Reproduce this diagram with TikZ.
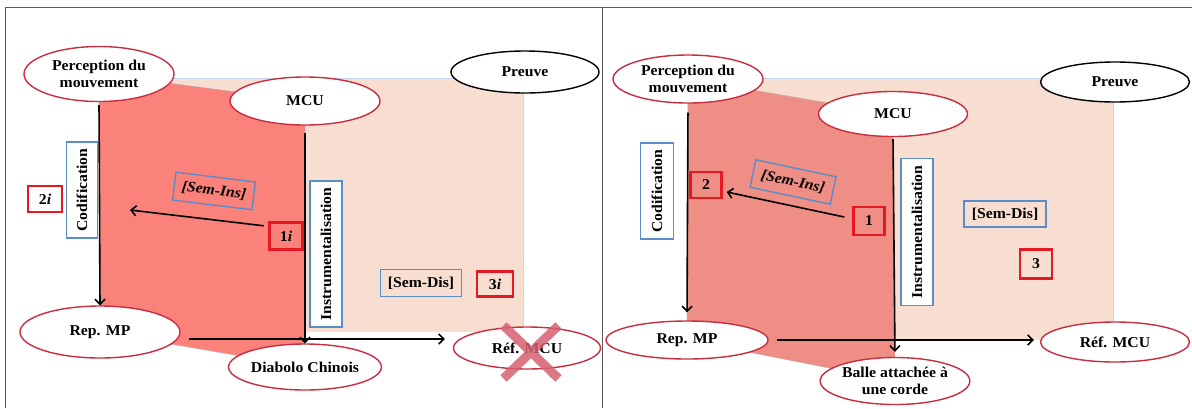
\documentclass[tikz,border=0pt]{standalone}
\usepackage{fontspec}
\setmainfont{Liberation Serif}[FakeStretch=1.05]
\usepackage{tikz}
\usetikzlibrary{arrows.meta,shapes.geometric,shapes.misc,backgrounds}
\definecolor{ZoneRed}{RGB}{250,130,122}
\definecolor{ZoneRedB}{RGB}{238,142,132}
\definecolor{ZonePeach}{RGB}{247,222,208}
\definecolor{EllRed}{RGB}{200,45,65}
\definecolor{BoxBlue}{RGB}{90,140,200}
\definecolor{BoxRed}{RGB}{230,25,35}
\definecolor{FrameGray}{RGB}{90,90,90}

\begin{document}
\begin{tikzpicture}[x=1pt, y=-1pt, >={Straight Barb[length=5pt,width=10pt]},
    font=\fontsize{15}{16.5}\selectfont\bfseries,
    ell/.style={ellipse, draw=EllRed, line width=1.4pt, fill=white, inner sep=0pt, align=center},
    bluebox/.style={draw=BoxBlue, line width=1.4pt, inner sep=0pt},
    redbox/.style={draw=BoxRed, line width=2.4pt, inner sep=0pt},
    arr/.style={->, line width=1.6pt}]
  \useasboundingbox (0,0) rectangle (1192,408);
  \draw[FrameGray, line width=0.8pt] (5,408) -- (5,7) -- (1192,7);
  \draw[FrameGray, line width=0.8pt] (602,7) -- (602,408);

  % left panel
  \node[ell, minimum width=150pt, minimum height=55pt] (perc1) at (99,74) {Perception du\\mouvement};
  \node[ell, minimum width=150pt, minimum height=48pt] (mcu1) at (305,101) {MCU};
  \node[ell, draw=black, minimum width=148pt, minimum height=42pt] (preuve1) at (525,72) {Preuve};
  \node[ell, minimum width=160pt, minimum height=52pt] (rep1) at (100,332) {Rep. MP};
  \node[ell, minimum width=148pt, minimum height=46pt] (diab1) at (305,367) {Diabolo Chinois};
  \node[ell, minimum width=147pt, minimum height=42pt] (ref1) at (527,348) {Réf. MCU};
  \node[cross out, draw=EllRed!75, opacity=0.85, line width=9pt, minimum width=46pt, minimum height=44pt] (barre1) at (531,352) {};
  \node[bluebox, fill=white, rotate=90, minimum width=96pt, minimum height=31pt] (cod1) at (82,190) {Codification};
  \node[redbox, minimum width=34pt, minimum height=26pt] (twoi) at (45,199) {2\textit{i}};
  \node[bluebox, rotate=-7, minimum width=80pt, minimum height=28pt] (semins1) at (214,191) {\textit{[Sem-Ins]}};
  \node[redbox, minimum width=33pt, minimum height=27pt] (onei) at (286,236) {1\textit{i}};
  \node[bluebox, fill=white, rotate=90, minimum width=146pt, minimum height=32pt] (instr1) at (326,254) {Instrumentalisation};
  \node[bluebox, minimum width=81pt, minimum height=27pt] (semdis1) at (421,283) {[Sem-Dis]};
  \node[redbox, minimum width=36pt, minimum height=25pt] (threei) at (495,284) {3\textit{i}};
  \coordinate (bout1) at (130,210);
  \coordinate (hz1) at (0,339);
  \begin{scope}[on background layer]
    \fill[ZonePeach] (101,78) rectangle (523,332);
    \draw[BoxBlue!35] (101,78) -- (523,78) -- (523,332);
    \filldraw[fill=ZoneRed, draw=gray!60] (perc1.center) -- (mcu1.center) -- (diab1.center) -- (rep1.center) -- cycle;
  \end{scope}
  \draw[arr, shorten <=3pt] (perc1.south) -- (rep1.north);
  \draw[arr, shorten <=7pt] (mcu1.south) -- (diab1.north);
  \draw[arr, shorten <=8pt, shorten >=8pt] (rep1.east |- hz1) -- (ref1.west |- hz1);
  \draw[arr] ([shift={(-4.5,4.5)}]onei.north west) -- (bout1);

  % right panel
  \node[ell, minimum width=150pt, minimum height=48pt] (perc2) at (688,79) {Perception du\\mouvement};
  \node[ell, minimum width=149pt, minimum height=45pt] (mcu2) at (893,114) {MCU};
  \node[ell, draw=black, minimum width=149pt, minimum height=40pt] (preuve2) at (1115,82) {Preuve};
  \node[ell, minimum width=162pt, minimum height=38pt] (rep2) at (687,340) {Rep. MP};
  \node[ell, minimum width=149pt, minimum height=47pt] (balle2) at (895,381) {Balle attachée à\\une corde};
  \node[ell, minimum width=149pt, minimum height=40pt] (ref2) at (1115,342) {Réf. MCU};
  \node[bluebox, fill=white, rotate=90, minimum width=96pt, minimum height=33pt] (cod2) at (657,191) {Codification};
  \node[redbox, minimum width=31pt, minimum height=26pt] (two) at (706,185) {2};
  \node[bluebox, rotate=-12, minimum width=82pt, minimum height=28pt] (semins2) at (793,182) {\textit{[Sem-Ins]}};
  \node[redbox, minimum width=31pt, minimum height=28pt] (one) at (869,221) {1};
  \node[bluebox, fill=white, rotate=90, minimum width=147pt, minimum height=32pt] (instr2) at (917,232) {Instrumentalisation};
  \node[bluebox, minimum width=82pt, minimum height=26pt] (semdis2) at (1005,214) {[Sem-Dis]};
  \node[redbox, minimum width=32pt, minimum height=29pt] (three) at (1036,264) {3};
  \coordinate (hz2) at (0,340);
  \begin{scope}[on background layer]
    \fill[ZonePeach] (691,78) rectangle (1113,340);
    \draw[BoxBlue!35] (691,78) -- (1113,78) -- (1113,340);
    \filldraw[fill=ZoneRedB, draw=gray!60] (perc2.center) -- (mcu2.center) -- (balle2.center) -- (rep2.center) -- cycle;
  \end{scope}
  \draw[arr, shorten <=9pt, shorten >=8pt] (perc2.south) -- (rep2.north);
  \draw[arr, shorten <=2pt, shorten >=5pt] (mcu2.south) -- (balle2.north);
  \draw[arr, shorten <=8pt, shorten >=6pt] (rep2.east |- hz2) -- (ref2.west |- hz2);
  \draw[arr] ([shift={(-8,-4)}]one.west) -- ([shift={(4,7)}]two.east);
\end{tikzpicture}
\end{document}
